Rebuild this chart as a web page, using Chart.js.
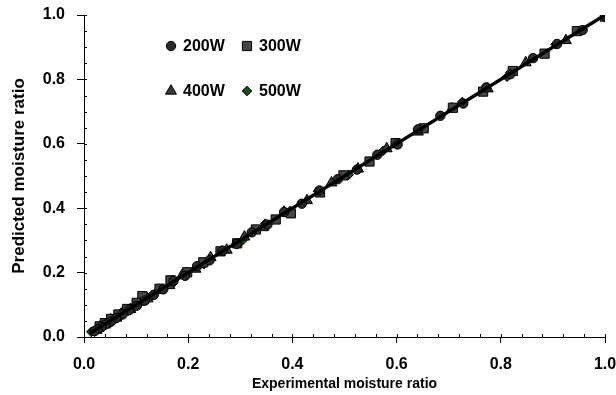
<!DOCTYPE html>
<html>
<head>
<meta charset="utf-8">
<script src="https://cdn.jsdelivr.net/npm/chart.js@4.4.1/dist/chart.umd.min.js"></script>
<style>
  html, body { margin: 0; padding: 0; background: #fff; }
</style>
</head>
<body>
<canvas id="chart" width="616" height="395"></canvas>
<script>
// DATA (experimental vs predicted moisture ratio)
const exp200 = [1.000, 0.957, 0.908, 0.862, 0.818, 0.772, 0.728, 0.684, 0.641, 0.602, 0.563, 0.524, 0.487, 0.452, 0.418, 0.384, 0.352, 0.322, 0.293, 0.266, 0.241, 0.217, 0.194, 0.172, 0.152, 0.134, 0.117, 0.101, 0.087, 0.074, 0.062, 0.051, 0.041, 0.033, 0.026, 0.020]
const pred200 = [0.998, 0.953, 0.910, 0.866, 0.816, 0.775, 0.725, 0.687, 0.645, 0.598, 0.566, 0.520, 0.490, 0.455, 0.414, 0.388, 0.349, 0.325, 0.289, 0.268, 0.238, 0.220, 0.190, 0.175, 0.148, 0.131, 0.113, 0.097, 0.084, 0.070, 0.059, 0.047, 0.039, 0.030, 0.024, 0.018]

const exp300 = [1.000, 0.946, 0.884, 0.823, 0.766, 0.708, 0.652, 0.598, 0.548, 0.498, 0.453, 0.397, 0.368, 0.330, 0.294, 0.262, 0.229, 0.198, 0.166, 0.145, 0.112, 0.101, 0.083, 0.066, 0.052, 0.040, 0.030]
const pred300 = [0.995, 0.950, 0.880, 0.826, 0.762, 0.712, 0.648, 0.602, 0.545, 0.502, 0.449, 0.384, 0.365, 0.334, 0.291, 0.266, 0.232, 0.201, 0.176, 0.150, 0.127, 0.106, 0.087, 0.070, 0.056, 0.043, 0.033]

const exp400 = [1.000, 0.925, 0.848, 0.775, 0.706, 0.641, 0.581, 0.526, 0.475, 0.428, 0.384, 0.344, 0.308, 0.274, 0.243, 0.214, 0.188, 0.164, 0.142, 0.122, 0.105, 0.089, 0.075, 0.062, 0.051, 0.041, 0.032, 0.024]
const pred400 = [0.996, 0.921, 0.852, 0.771, 0.709, 0.637, 0.585, 0.522, 0.479, 0.424, 0.388, 0.340, 0.311, 0.270, 0.247, 0.211, 0.191, 0.160, 0.145, 0.119, 0.108, 0.086, 0.078, 0.059, 0.054, 0.038, 0.034, 0.021]

const exp500 = [1.000, 0.905, 0.812, 0.726, 0.646, 0.574, 0.508, 0.449, 0.396, 0.348, 0.304, 0.265, 0.230, 0.198, 0.170, 0.145, 0.123, 0.103, 0.086, 0.071, 0.058, 0.046, 0.036, 0.027, 0.020, 0.014]
const pred500 = [0.993, 0.909, 0.808, 0.730, 0.642, 0.578, 0.504, 0.453, 0.392, 0.352, 0.300, 0.269, 0.226, 0.202, 0.166, 0.149, 0.119, 0.107, 0.082, 0.075, 0.055, 0.049, 0.033, 0.029, 0.017, 0.016]

// fitted line
const fitX = [0.012, 1.0]
const fitY = [0.012, 1.0]

const xTicks = [0, 0.2, 0.4, 0.6, 0.8, 1.0]
const yTicks = [0, 0.2, 0.4, 0.6, 0.8, 1.0]

const seriesLabels = ['200W', '300W', '400W', '500W']

const toPoints = (xs, ys) => xs.map((x, i) => ({ x: x, y: ys[i] }))

const FONT = 'Liberation Sans, Arial, sans-serif'

// minor ticks + small inner part of the major ticks
const minorTicks = {
  id: 'minorTicks',
  afterDraw(chart) {
    const ctx = chart.ctx
    const xs = chart.scales.x
    const ys = chart.scales.y
    const area = chart.chartArea
    ctx.save()
    ctx.strokeStyle = '#000'
    ctx.lineWidth = 1
    ctx.beginPath()
    for (let i = 1; i <= 25; i++) {
      const px = Math.round(xs.getPixelForValue(i * 0.04)) + 0.5
      ctx.moveTo(px, area.bottom)
      ctx.lineTo(px, area.bottom - 3)
    }
    for (let i = 1; i <= 20; i++) {
      const py = Math.round(ys.getPixelForValue(i * 0.05)) + 0.5
      ctx.moveTo(area.left, py)
      ctx.lineTo(area.left + 3, py)
    }
    ctx.stroke()
    ctx.restore()
  }
}

// legend drawn inside the plot, 2 x 2
const innerLegend = {
  id: 'innerLegend',
  afterDraw(chart) {
    const ctx = chart.ctx
    const area = chart.chartArea
    const spots = [[87, 31], [163, 31], [87, 76], [163, 76]]
    ctx.save()
    ctx.font = 'bold 16px ' + FONT
    ctx.textBaseline = 'middle'
    for (let i = 0; i < 4; i++) {
      const ds = chart.data.datasets[i]
      const x = area.left + spots[i][0]
      const y = area.top + spots[i][1]
      ctx.fillStyle = ds.backgroundColor
      ctx.strokeStyle = ds.borderColor
      ctx.lineWidth = ds.borderWidth
      Chart.helpers.drawPoint(ctx, { pointStyle: ds.pointStyle, radius: ds.pointRadius, rotation: 0, borderWidth: ds.borderWidth }, x, y)
      ctx.fillStyle = '#000'
      ctx.fillText(ds.label, x + 12, y + 1)
    }
    ctx.restore()
  }
}

const scatterSet = (label, xs, ys, style, radius, fill) => ({
  type: 'scatter',
  label: label,
  data: toPoints(xs, ys),
  pointStyle: style,
  pointRadius: radius,
  pointHoverRadius: radius,
  backgroundColor: fill,
  borderColor: '#000',
  borderWidth: 1,
  order: 1
})

new Chart(document.getElementById('chart'), {
  type: 'scatter',
  data: {
    datasets: [
      scatterSet(seriesLabels[0], exp200, pred200, 'circle', 4.7, '#2a2a2a'),
      scatterSet(seriesLabels[1], exp300, pred300, 'rect', 6.5, '#444444'),
      scatterSet(seriesLabels[2], exp400, pred400, 'triangle', 6.3, '#383838'),
      scatterSet(seriesLabels[3], exp500, pred500, 'rectRot', 4.8, '#1d4a1d'),
      {
        type: 'line',
        label: 'fit',
        data: toPoints(fitX, fitY),
        borderColor: '#000',
        borderWidth: 3.5,
        pointRadius: 0,
        fill: false,
        order: 0
      }
    ]
  },
  options: {
    responsive: false,
    animation: false,
    layout: { padding: { top: 15, left: 0, right: 11, bottom: 0 } },
    plugins: { legend: { display: false }, tooltip: { enabled: false } },
    scales: {
      x: {
        type: 'linear',
        min: 0, max: 1,
        afterBuildTicks: s => { s.ticks = xTicks.map(v => ({ value: v })) },
        afterFit: s => { s.height = 58; s.paddingLeft = 0; s.paddingRight = 0 },
        ticks: {
          padding: 12,
          color: '#000',
          font: { family: FONT, size: 16, weight: 'bold' },
          callback: v => v.toFixed(1)
        },
        grid: { drawOnChartArea: false, tickLength: 6, color: '#000' },
        border: { color: '#000', width: 1 },
        title: {
          display: true,
          text: 'Experimental moisture ratio',
          color: '#000',
          font: { family: FONT, size: 14, weight: 'bold' },
          padding: { top: 0, bottom: 2 }
        }
      },
      y: {
        type: 'linear',
        min: 0, max: 1,
        afterBuildTicks: s => { s.ticks = yTicks.map(v => ({ value: v })) },
        afterFit: s => { s.width = 84; s.paddingTop = 0; s.paddingBottom = 0 },
        ticks: {
          padding: 12,
          color: '#000',
          font: { family: FONT, size: 16, weight: 'bold' },
          callback: v => v.toFixed(1)
        },
        grid: { drawOnChartArea: false, tickLength: 7, color: '#000' },
        border: { color: '#000', width: 1 },
        title: {
          display: true,
          text: 'Predicted moisture ratio',
          color: '#000',
          font: { family: FONT, size: 17, weight: 'bold' },
          padding: { top: 9, bottom: 0 }
        }
      }
    }
  },
  plugins: [minorTicks, innerLegend]
})
</script>
</body>
</html>
